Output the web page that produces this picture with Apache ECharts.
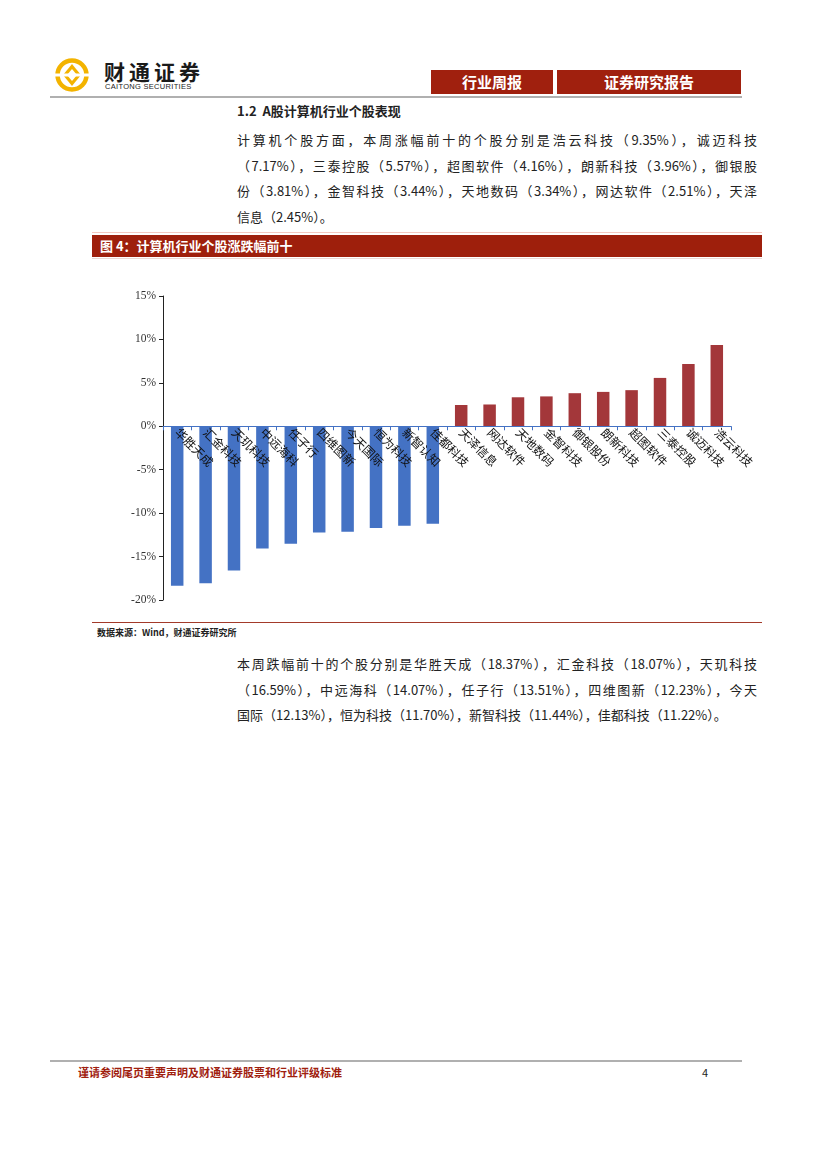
<!DOCTYPE html>
<html><head><meta charset="utf-8">
<script src="https://cdn.jsdelivr.net/npm/echarts@6/dist/echarts.min.js"></script>
<style>
html,body{margin:0;padding:0;background:#fff;}
body{width:827px;height:1170px;position:relative;overflow:hidden;font-family:"Noto Sans CJK SC",sans-serif;color:#222;}
.abs{position:absolute;}
.para{position:absolute;left:237px;width:520px;font-size:13px;line-height:25.7px;}
.para div{white-space:nowrap;}
.j{text-align:justify;text-align-last:justify;}
</style></head>
<body>
<!-- header -->
<svg class="abs" style="left:52px;top:55px" width="40" height="40" viewBox="0 0 40 40">
  <g fill="none" stroke="#F3B300" stroke-width="4.5">
    <circle cx="20" cy="20" r="14.5"/>
  </g>
  <g fill="#F3B300">
    <path d="M20 9 L29 20 L20 31 L11 20 Z"/>
  </g>
  <path d="M20 14 L25 20 L20 26 L15 20 Z" fill="#fff"/>
  <rect x="3" y="18.5" width="34" height="3" fill="#fff"/>
</svg>
<div class="abs" style="left:104px;top:56px;font-size:21px;font-weight:bold;letter-spacing:4px;color:#1a1a1a;">财通证券</div>
<div class="abs" style="left:105px;top:82px;font-size:7.5px;font-family:'Liberation Sans',sans-serif;letter-spacing:0.3px;color:#222;">CAITONG SECURITIES</div>
<div class="abs" style="left:431px;top:70px;width:122px;height:24px;background:#A0200E;color:#fff;font-weight:bold;font-size:15px;line-height:24px;text-align:center;">行业周报</div>
<div class="abs" style="left:557px;top:70px;width:184px;height:24px;background:#A0200E;color:#fff;font-weight:bold;font-size:15px;line-height:24px;text-align:center;">证券研究报告</div>
<div class="abs" style="left:50px;top:96px;width:692px;height:2px;background:#B0B0B0;"></div>

<div class="abs" style="left:237px;top:101px;font-size:13px;font-weight:bold;">1.2&nbsp; A股计算机行业个股表现</div>

<div class="para" style="top:127px;">
  <div class="j">计算机个股方面，本周涨幅前十的个股分别是浩云科技（9.35%），诚迈科技</div>
  <div class="j">（7.17%），三泰控股（5.57%），超图软件（4.16%），朗新科技（3.96%），御银股</div>
  <div class="j">份（3.81%），金智科技（3.44%），天地数码（3.34%），网达软件（2.51%），天泽</div>
  <div>信息（2.45%）。</div>
</div>

<div class="abs" style="left:92px;top:232px;width:670px;height:1px;background:#F4C8C0;"></div>
<div class="abs" style="left:92px;top:235px;width:670px;height:22px;background:#9E1F0C;"></div>
<div class="abs" style="left:100px;top:235px;font-size:13px;line-height:22px;font-weight:bold;color:#fff;">图 4：计算机行业个股涨跌幅前十</div>
<div class="abs" style="left:92px;top:258px;width:670px;height:1px;background:#EAD8D4;"></div>

<div id="chart" class="abs" style="left:92px;top:259px;width:670px;height:361px;"></div>

<div class="abs" style="left:92px;top:622px;width:670px;height:1px;background:#A33A2A;"></div>
<div class="abs" style="left:97px;top:626px;font-size:9px;font-weight:bold;">数据来源：Wind，财通证券研究所</div>

<div class="para" style="top:651px;">
  <div class="j">本周跌幅前十的个股分别是华胜天成（18.37%），汇金科技（18.07%），天玑科技</div>
  <div class="j">（16.59%），中远海科（14.07%），任子行（13.51%），四维图新（12.23%），今天</div>
  <div>国际（12.13%），恒为科技（11.70%），新智科技（11.44%），佳都科技（11.22%）。</div>
</div>

<!-- footer -->
<div class="abs" style="left:50px;top:1060px;width:692px;height:2px;background:#B0B0B0;"></div>
<div class="abs" style="left:78px;top:1064px;font-size:11px;font-weight:bold;color:#A0200E;">谨请参阅尾页重要声明及财通证券股票和行业评级标准</div>
<div class="abs" style="left:702px;top:1064px;font-size:11px;color:#222;">4</div>

<script>
const categories = ['华胜天成','汇金科技','天玑科技','中远海科','任子行','四维图新','今天国际','恒为科技','新智认知','佳都科技',
  '天泽信息','网达软件','天地数码','金智科技','御银股份','朗新科技','超图软件','三泰控股','诚迈科技','浩云科技'];
const changes = [-18.37,-18.07,-16.59,-14.07,-13.51,-12.23,-12.13,-11.70,-11.44,-11.22,
  2.45,2.51,3.34,3.44,3.81,3.96,4.16,5.57,7.17,9.35];
const yTicks = {min:-20, max:15, interval:5};

const gridTop = 37, gridBottom = 20, chartH = 361;
const gridH = chartH - gridTop - gridBottom;
// distance from grid bottom up to the zero line, derived from the value scale
const zeroOffset = gridH * (0 - yTicks.min) / (yTicks.max - yTicks.min);

const chart = echarts.init(document.getElementById('chart'));
chart.setOption({
  animation:false,
  grid:{left:71, right:31, top:gridTop, bottom:gridBottom, outerBoundsMode:'none', containLabel:false},
  xAxis:{
    type:'category', data:categories, z:5, position:'bottom', offset:-zeroOffset,
    axisLine:{onZero:false, lineStyle:{color:'#4472C4', width:1}},
    axisTick:{show:true, alignWithLabel:false, length:4, lineStyle:{color:'#4472C4'}},
    axisLabel:{rotate:-45, interval:0, margin:4, fontSize:12, color:'#111', fontFamily:'Noto Sans CJK SC', hideOverlap:false},
    splitLine:{show:false}
  },
  yAxis:{
    type:'value', min:yTicks.min, max:yTicks.max, interval:yTicks.interval,
    axisLine:{show:true, lineStyle:{color:'#222', width:1}},
    axisTick:{show:true, length:4, lineStyle:{color:'#222'}},
    axisLabel:{formatter:'{value}%', fontSize:11.5, color:'#333', margin:7, fontFamily:'Liberation Serif'},
    splitLine:{show:false}
  },
  series:[{
    type:'bar', data:changes, barWidth:'44%',
    itemStyle:{color:function(p){return p.value<0?'#4472C4':'#A3373A';}}
  }]
});
</script>
</body></html>
